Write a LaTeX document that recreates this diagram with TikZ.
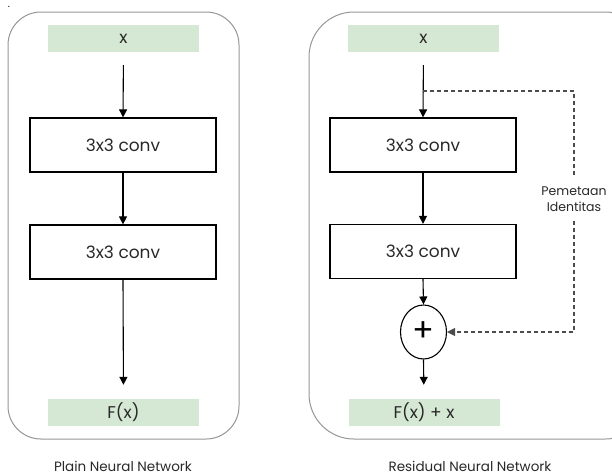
\documentclass[tikz,border=0pt]{standalone}
\usepackage{fontspec}
\setmainfont{Poppins}
\usepackage{tikz}
\usetikzlibrary{positioning}
\usetikzlibrary{arrows.meta}
\usetikzlibrary{shapes.geometric}

\definecolor{inputgreen}{RGB}{213,232,212}
\definecolor{panelgray}{RGB}{150,150,150}
\definecolor{textgray}{RGB}{40,40,40}

\tikzset{
  panel/.style={draw=panelgray, line width=1pt},
  io/.style={fill=inputgreen, minimum width=151pt, minimum height=27pt, inner sep=0pt,
    text=textgray, font=\fontsize{17}{20}\selectfont},
  conv/.style={draw, line width=1.2pt, minimum width=186pt, minimum height=54pt, inner sep=0pt,
    text=textgray, font=\fontsize{17}{20}\selectfont},
  flow/.style={line width=1.1pt, -{Triangle[length=8pt,width=8pt]}},
  ident/.style={line width=1.1pt, draw=black!70, dash pattern=on 4pt off 3pt},
  caption/.style={anchor=base, inner sep=0pt, text=textgray, font=\fontsize{13.5}{16}\selectfont}
}

\begin{document}
\begin{tikzpicture}[x=1pt, y=-1pt]
                \clip (0,0) rectangle (612,475);
                \node(dot) [anchor=base, inner sep=0pt, font=\fontsize{10}{10}\selectfont] at (9,7) {.};

                % plain
                \draw[panel, rounded corners=33pt] (8,12) rectangle (239,439);
                \node(px) [io] at (123.5,38.5) {x};
                \node(pc1) [conv] at (123,145) {3x3 conv};
                \node(pc2) [conv] at (123,252) {3x3 conv};
                \node(pfx) [io] at (123.5,412.5) {F(x)};
                \node(plain) [caption] at (123,471) {Plain Neural Network};

                \draw[flow, shorten <=13pt] (px.south) -- (pc1.north);
                \draw[flow] (pc1.south) -- (pc2.north);
                \draw[flow, shorten >=14pt] (pc2.south) -- (pfx.north);

                % residual
                \draw[panel, rounded corners=45pt] (309,12) rectangle (650,439);
                \node(rx) [io] at (423.5,38.5) {x};
                \node(rc1) [conv] at (423,145) {3x3 conv};
                \node(rc2) [conv] at (423,251.5) {3x3 conv};
                \node(plus) [ellipse, draw, line width=1.1pt, minimum width=46pt, minimum height=54pt,
                  inner sep=0pt, text=black, font=\fontsize{32}{32}\selectfont] at (423.5,332) {+};
                \node(rfx) [io] at (424,412.5) {F(x) + x};
                \node(resid) [caption] at (470,471) {Residual Neural Network};
                \node(idmap) [align=center, inner sep=9pt, text=textgray,
                  font=\fontsize{12.5}{16}\selectfont] at (574,199) {Pemetaan\\Identitas};
                \coordinate(split) at (423,91);

                \draw[flow, shorten <=13pt] (rx.south) -- (rc1.north);
                \draw[flow] (rc1.south) -- (rc2.north);
                \draw[flow] (rc2.south) -- (plus.north);
                \draw[flow, shorten >=14pt] (plus.south) -- (rfx.north);
                \draw[ident] (split) -| (idmap.north);
                \draw[ident, -{Triangle[length=8pt,width=8pt]}] (idmap.south) |- (plus.east);
            \end{tikzpicture}
\end{document}
